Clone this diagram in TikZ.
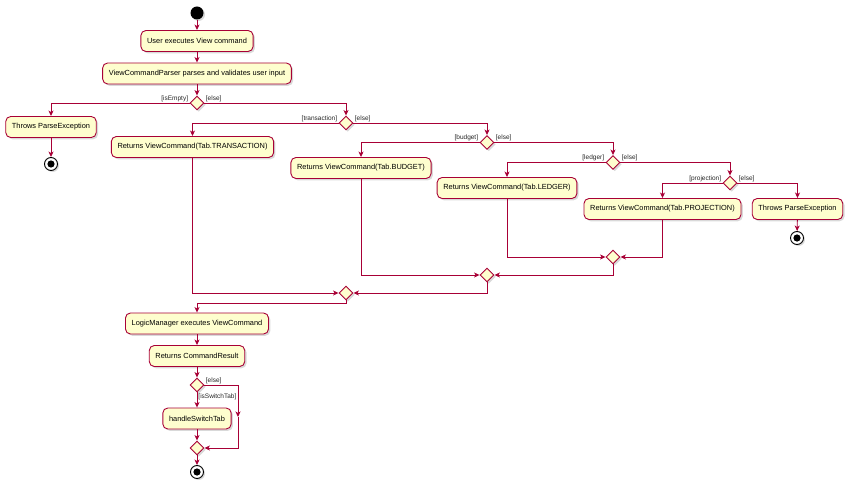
\documentclass[tikz,border=0pt]{standalone}
\usepackage{fontspec}
\setmainfont{Liberation Sans}
\usetikzlibrary{arrows.meta,shapes.geometric,shadows}
\definecolor{umlline}{HTML}{A80036}
\definecolor{umlfill}{HTML}{FEFECE}

\begin{document}
\begin{tikzpicture}[x=1pt,y=-1pt,line width=0.9pt,
                    action/.style={rectangle,rounded corners=5pt,draw=umlline,fill=umlfill,minimum height=21pt,
                      inner xsep=6.2pt,inner ysep=0pt,font=\fontsize{7.4}{9}\selectfont,
                      drop shadow={shadow xshift=1.8pt,shadow yshift=-1.8pt,opacity=0.3}},
                    branch/.style={diamond,draw=umlline,fill=umlfill,minimum width=14pt,minimum height=14pt,inner sep=0pt,
                      drop shadow={shadow xshift=1.8pt,shadow yshift=-1.8pt,opacity=0.3}},
                    start/.style={circle,fill=black,minimum size=13pt,inner sep=0pt,
                      drop shadow={shadow xshift=1.5pt,shadow yshift=-1.5pt,opacity=0.3}},
                    stop/.style={circle,draw=black,fill=white,minimum size=13pt,inner sep=0pt,
                      path picture={\fill[black] (path picture bounding box.center) circle (3.6pt);},
                      drop shadow={shadow xshift=1.5pt,shadow yshift=-1.5pt,opacity=0.3}},
                    guard/.style={font=\fontsize{6.5}{7.5}\selectfont,inner sep=1pt,text=black!85},
                    flow/.style={draw=umlline,-{Stealth[length=5.5pt,width=5pt,inset=1.5pt]}}]
  \useasboundingbox (0,0) rectangle (848,486);

  %parse%
  \node[start] (0) at (197,13) {};
  \node[action] (1) at (197,41) {User executes View command};
  \node[action] (2) at (197,73.5) {ViewCommandParser parses and validates user input};
  \node[branch] (3) at (197,103) {};
  \node[action] (4) at (51,127) {Throws ParseException};
  \node[stop] (5) at (51,164) {};

  %tabs%
  \node[branch] (6) at (346,123) {};
  \node[action] (7) at (192.5,147) {Returns ViewCommand(Tab.TRANSACTION)};
  \node[branch] (8) at (487,142.5) {};
  \node[action] (9) at (361,168) {Returns ViewCommand(Tab.BUDGET)};
  \node[branch] (10) at (613,162.5) {};
  \node[action] (11) at (507,188) {Returns ViewCommand(Tab.LEDGER)};
  \node[branch] (12) at (730,183) {};
  \node[action] (13) at (662.5,209) {Returns ViewCommand(Tab.PROJECTION)};
  \node[action] (14) at (797.5,209) {Throws ParseException};
  \node[stop] (15) at (797,238) {};

  %merge%
  \node[branch] (16) at (613,257) {};
  \node[branch] (17) at (487,275) {};
  \node[branch] (18) at (346,293) {};
  \coordinate (19) at (197,303);

  %logic%
  \node[action] (20) at (197,323.5) {LogicManager executes ViewCommand};
  \node[action] (21) at (197,356) {Returns CommandResult};
  \node[branch] (22) at (197,385) {};
  \node[action] (23) at (197,418.5) {handleSwitchTab};
  \coordinate (24) at (238,417);
  \node[branch] (25) at (197,448) {};
  \node[stop] (26) at (197,472) {};

  \draw[flow] (0) -- (1);
  \draw[flow] (1) -- (2);
  \draw[flow] (2) -- (3);
  \draw[flow] (3.west) -| node[guard,pos=0,anchor=south east] {[isEmpty]} (4.north);
  \draw[flow] (3.east) -| node[guard,pos=0,anchor=south west] {[else]} (6.north);
  \draw[flow] (4) -- (5);
  \draw[flow] (6.west) -| node[guard,pos=0,anchor=south east] {[transaction]} (7.north);
  \draw[flow] (6.east) -| node[guard,pos=0,anchor=south west] {[else]} (8.north);
  \draw[flow] (8.west) -| node[guard,pos=0,anchor=south east] {[budget]} (9.north);
  \draw[flow] (8.east) -| node[guard,pos=0,anchor=south west] {[else]} (10.north);
  \draw[flow] (10.west) -| node[guard,pos=0,anchor=south east] {[ledger]} (11.north);
  \draw[flow] (10.east) -| node[guard,pos=0,anchor=south west] {[else]} (12.north);
  \draw[flow] (12.west) -| node[guard,pos=0,anchor=south east] {[projection]} (13.north);
  \draw[flow] (12.east) -| node[guard,pos=0,anchor=south west] {[else]} (14.north);
  \draw[flow] (14) -- (15);

  \draw[flow] (11.south) |- (16.west);
  \draw[flow] (13.south) |- (16.east);
  \draw[flow] (9.south) |- (17.west);
  \draw[flow] (16.south) |- (17.east);
  \draw[flow] (7.south) |- (18.west);
  \draw[flow] (17.south) |- (18.east);
  \draw[flow] (18.south) |- (19) -- (20.north);

  \draw[flow] (20) -- (21);
  \draw[flow] (21) -- (22);
  \draw[flow] (22.south) -- node[guard,pos=0,anchor=north west] {[isSwitchTab]} (23.north);
  \draw[flow] (22.east) -| node[guard,pos=0,anchor=south west] {[else]} (24);
  \draw[flow] (24) |- (25.east);
  \draw[flow] (23) -- (25);
  \draw[flow] (25) -- (26);
\end{tikzpicture}
\end{document}
